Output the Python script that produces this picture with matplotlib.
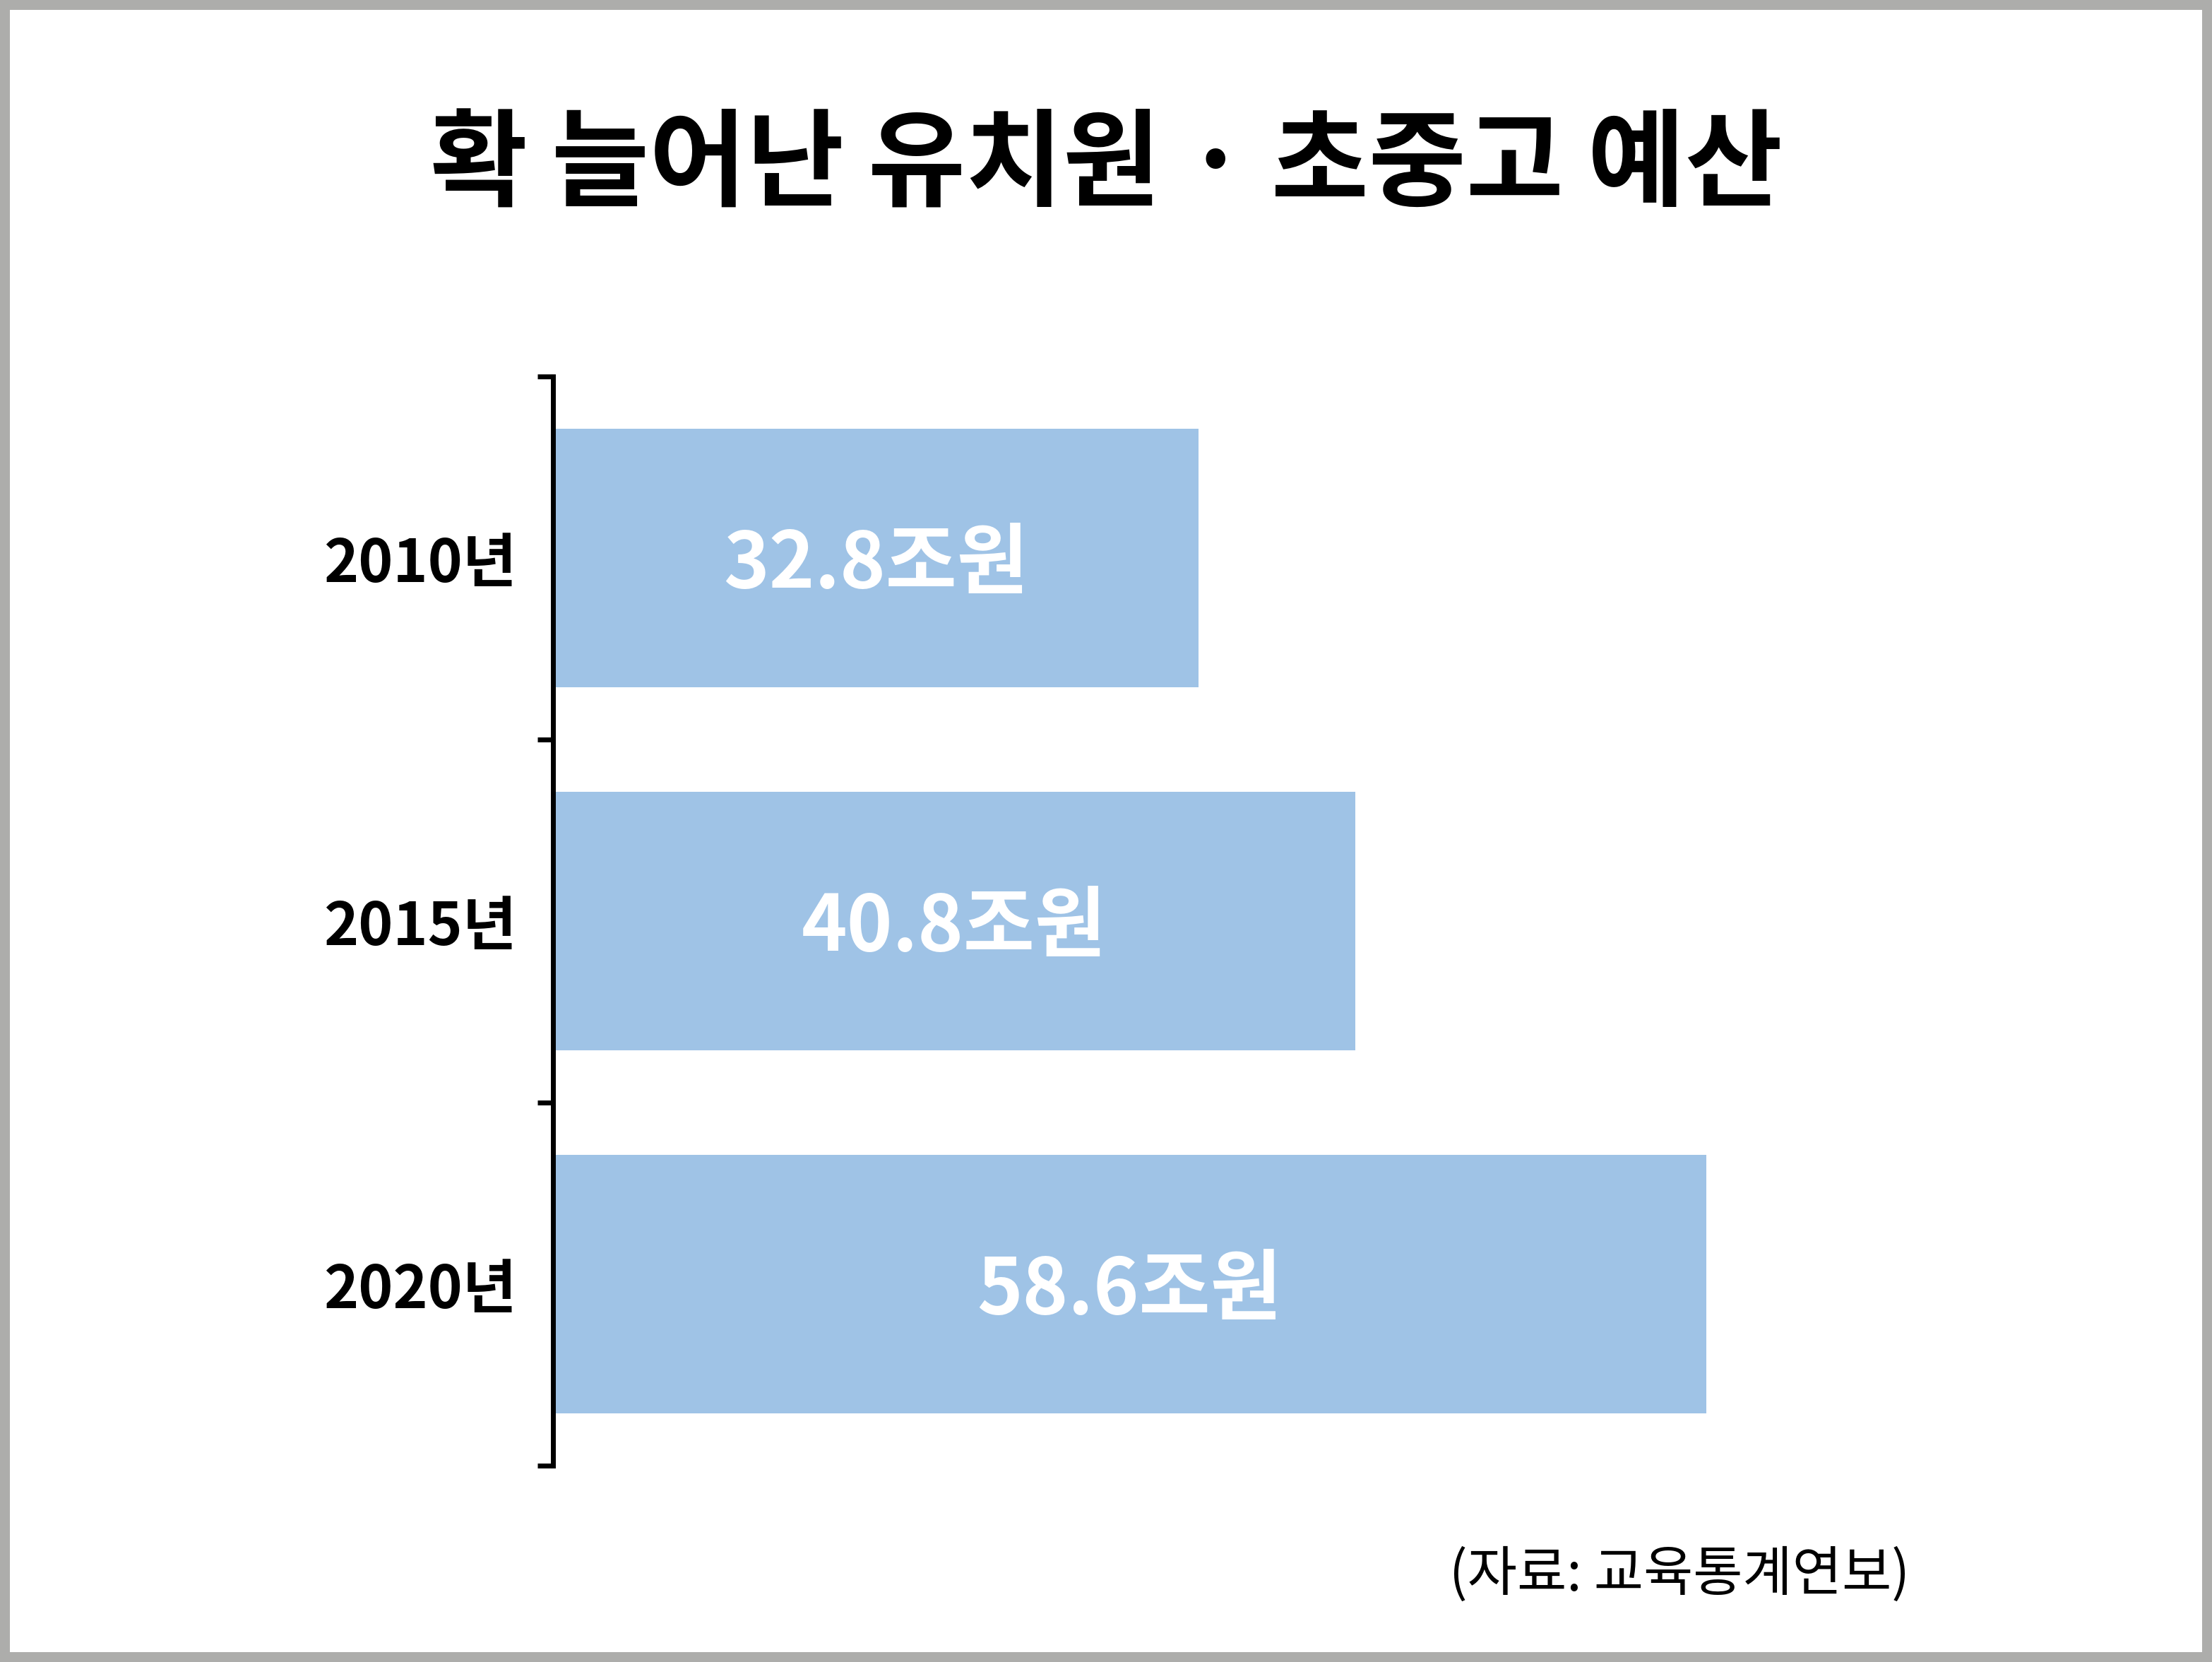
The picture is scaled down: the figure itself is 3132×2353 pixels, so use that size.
import matplotlib.pyplot as plt
from matplotlib.patches import Rectangle

plt.rcParams['font.family'] = ['Noto Sans CJK KR', 'DejaVu Sans']

# 데이터
years = ['2010년', '2015년', '2020년']
budget = [32.8, 40.8, 58.6]  # 조원

title = '확 늘어난 유치원 · 초중고 예산'
source = '(자료: 교육통계연보)'

W, H = 3132, 2353
bar_color = '#9FC3E6'
border_color = '#ADADAB'

fig = plt.figure(figsize=(W / 100, H / 100), dpi=100)
fig.patch.set_facecolor(border_color)
b = 14
fig.patches.append(Rectangle((b / W, b / H), 1 - 2 * b / W, 1 - 2 * b / H,
                             transform=fig.transFigure, facecolor='white',
                             edgecolor='none', zorder=-1))

# 축 위치 (픽셀 기준)
left, right = 782.5, 2900
top, bottom = 533, 2075
ax = fig.add_axes([left / W, (H - bottom) / H, (right - left) / W, (bottom - top) / H])
ax.set_facecolor('none')

px_per_unit = (2419 - 786) / 58.6
ax.set_xlim(0, (right - left) / px_per_unit)
ax.set_ylim(2.5, -0.5)

pos = list(range(len(years)))
ax.barh(pos, budget, height=0.712, color=bar_color, zorder=1)

for i, v in enumerate(budget):
    ax.text(v / 2, i + 0.02, f'{v}조원', ha='center', va='center', color='white',
            fontsize=79, fontweight='bold', zorder=3)

# y축: 경계에 눈금, 라벨은 가운데
ax.set_yticks([-0.5, 0.5, 1.5, 2.5])
ax.set_yticklabels([])
ax.tick_params(axis='y', which='major', length=16, width=5, color='black')
ax.set_yticks(pos, minor=True)
ax.set_yticklabels(years, minor=True, fontsize=60, fontweight='bold')
ax.tick_params(axis='y', which='minor', length=0, pad=37)

ax.xaxis.set_visible(False)
for s in ['top', 'right', 'bottom']:
    ax.spines[s].set_visible(False)
ax.spines['left'].set_linewidth(5)
ax.spines['left'].set_zorder(4)

fig.text(1566 / W, 1 - 237 / H, title, ha='center', va='center',
         fontsize=108, fontweight='bold')
fig.text(2704 / W, 1 - 2230 / H, source, ha='right', va='center',
         fontsize=55, fontweight='medium')

fig.savefig('out.png', dpi=100, facecolor=fig.get_facecolor())
